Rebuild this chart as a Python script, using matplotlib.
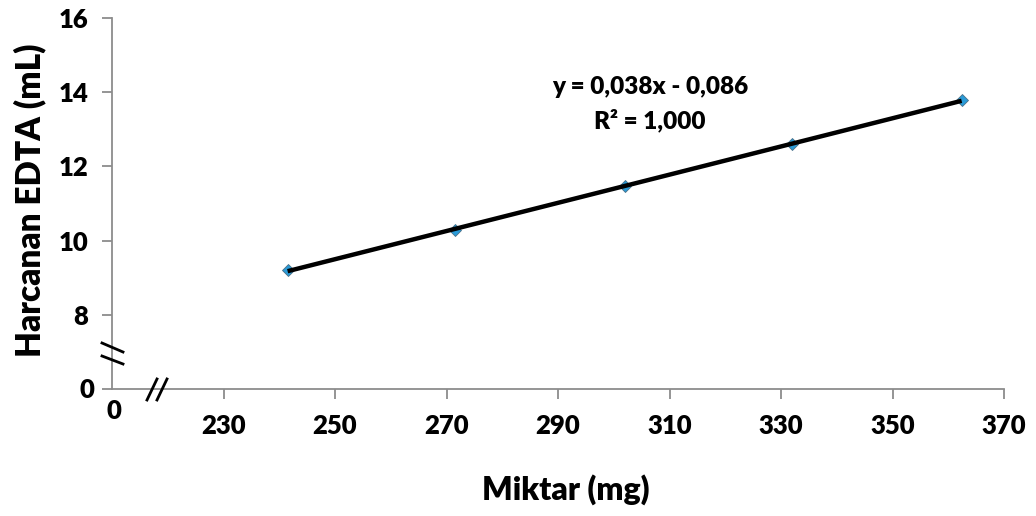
import matplotlib
matplotlib.use("Agg")
import matplotlib.pyplot as plt
from matplotlib.lines import Line2D
import numpy as np

plt.rcParams['font.family'] = ['Lato', 'DejaVu Sans']
plt.rcParams['font.weight'] = 'heavy'

miktar = [241.5, 271.6, 302.0, 332.0, 362.4]
edta = [9.21, 10.28, 11.47, 12.60, 13.79]
x_ticks = [230, 250, 270, 290, 310, 330, 350, 370]
y_ticks = [8, 10, 12, 14, 16]
equation = "y = 0,038x - 0,086"
r2_text = "R² = 1,000"
x_label = "Miktar (mg)"
y_label = "Harcanan EDTA (mL)"

W, H = 1036, 516
FW = 'heavy'
fig = plt.figure(figsize=(W / 100, H / 100), dpi=100)
L, R, T, B = 112, 1004, 18, 389
ax = fig.add_axes([L / W, 1 - B / H, (R - L) / W, (B - T) / H])

ax.set_xlim(210, 370)
ax.set_ylim(6, 16)

axis_col = '#8c8c8c'
for s in ['top', 'right']:
    ax.spines[s].set_visible(False)
for s in ['left', 'bottom']:
    ax.spines[s].set_color(axis_col)
    ax.spines[s].set_linewidth(1.3)

ax.set_xticks(x_ticks)
ax.set_xticklabels([str(v) for v in x_ticks])
ax.set_yticks([6] + y_ticks)
ax.set_yticklabels([''] + [str(v) for v in y_ticks])
ax.tick_params(axis='both', direction='out', length=7, width=1.3, color=axis_col,
               labelsize=18.5, labelcolor='black')
ax.tick_params(axis='x', pad=11)
ax.tick_params(axis='y', pad=10)
for lab in ax.get_xticklabels() + ax.get_yticklabels():
    lab.set_fontweight(FW)

# trendline
coef = np.polyfit(miktar, edta, 1)
xs = np.array([miktar[0], miktar[-1]])
ax.plot(xs, np.polyval(coef, xs), color='black', lw=3.2, zorder=3, solid_capstyle='butt')
ax.plot(miktar, edta, linestyle='none', marker='D', markersize=6.5,
        markerfacecolor='#2a9bd8', markeredgecolor='#4a6f86', markeredgewidth=0.6, zorder=2,
        clip_on=False)

ax.text(650 / W, 1 - 87 / H, equation, transform=fig.transFigure, ha='center', va='center',
        fontsize=17.5, fontweight=FW)
ax.text(650 / W, 1 - 120 / H, r2_text, transform=fig.transFigure, ha='center', va='center',
        fontsize=17.5, fontweight=FW)

# "0" labels at broken axes
fig.text(87 / W, 1 - 390 / H, "0", ha='center', va='center', fontsize=18.5, fontweight=FW)
fig.text(114 / W, 1 - 411 / H, "0", ha='center', va='center', fontsize=18.5, fontweight=FW)

# axis titles
fig.text(566 / W, 1 - 490 / H, x_label, ha='center', va='center', fontsize=23, fontweight=FW)
fig.text(30 / W, 1 - 200 / H, y_label, ha='center', va='center', fontsize=24, fontweight=FW,
         rotation=90)

# break marks
def seg(x0, y0, x1, y1):
    fig.add_artist(Line2D([x0 / W, x1 / W], [1 - y0 / H, 1 - y1 / H], color='black',
                          lw=2.0, transform=fig.transFigure))

seg(102, 343, 123, 352)
seg(102, 356, 123, 364)
seg(147, 400, 157, 379)
seg(157, 400, 167, 379)

fig.savefig("out.png", dpi=100)
